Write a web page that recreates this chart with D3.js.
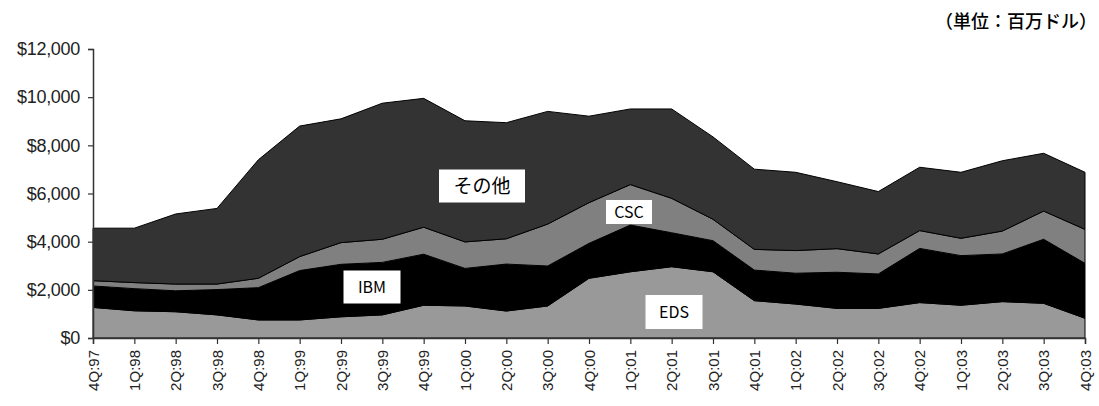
<!DOCTYPE html>
<html>
<head>
<meta charset="utf-8">
<script src="https://cdn.jsdelivr.net/npm/d3@7"></script>
<style>
	body { margin: 0; background: #fff; }
	svg { display: block; }
</style>
</head>
<body>
<div id="chart"></div>
<script>
	// quarters on the x axis
	var quarters = ["4Q:97","1Q:98","2Q:98","3Q:98","4Q:98","1Q:99","2Q:99","3Q:99","4Q:99",
		"1Q:00","2Q:00","3Q:00","4Q:00","1Q:01","2Q:01","3Q:01","4Q:01",
		"1Q:02","2Q:02","3Q:02","4Q:02","1Q:03","2Q:03","3Q:03","4Q:03"];
	// values in $ millions, stacked bottom to top
	var eds   = [1270,1130,1090,960,750,750,880,960,1360,1330,1120,1330,2480,2750,2960,2750,1550,1410,1230,1230,1470,1360,1510,1440,820];
	var ibm   = [890,920,870,1050,1340,2050,2180,2180,2120,1560,1950,1660,1450,1940,1410,1290,1270,1280,1500,1430,2250,2060,1980,2660,2280];
	var csc   = [220,250,280,230,390,580,900,960,1120,1100,1050,1740,1690,1680,1430,890,860,940,980,830,740,720,950,1170,1410];
	var other = [2180,2260,2910,3140,4920,5420,5140,5650,5350,5030,4820,4680,3590,3140,3710,3420,3330,3250,2780,2590,2630,2740,2920,2400,2370];
	var yTicks = [0, 2000, 4000, 6000, 8000, 10000, 12000];

	var keys = ["EDS", "IBM", "CSC", "その他"];
	var colors = {"EDS": "#999999", "IBM": "#000000", "CSC": "#808080", "その他": "#333333"};

	var rows = quarters.map(function(q, i) {
		return {q: q, "EDS": eds[i], "IBM": ibm[i], "CSC": csc[i], "その他": other[i]};
	});

	var width = 1099;
	var height = 406;
	var margin = {top: 49, right: 14, bottom: 68, left: 93};

	var svg = d3.select("#chart")
		.append("svg")
		.attr("width", width)
		.attr("height", height);

	var x = d3.scalePoint()
		.domain(quarters)
		.range([margin.left, width - margin.right]);
	var y = d3.scaleLinear()
		.domain([0, 12000])
		.range([height - margin.bottom, margin.top]);

	var series = d3.stack().keys(keys)(rows);

	var area = d3.area()
		.x(function(d) { return x(d.data.q); })
		.y0(function(d) { return y(d[0]); })
		.y1(function(d) { return y(d[1]); });

	svg.append("g")
		.selectAll("path")
		.data(series)
		.enter()
		.append("path")
		.attr("fill", function(d) { return colors[d.key]; })
		.attr("stroke", "#000")
		.attr("stroke-width", 1)
		.attr("d", area);

	// y axis
	var yAxis = svg.append("g")
		.attr("transform", "translate(" + margin.left + ",0)")
		.call(d3.axisLeft(y).tickValues(yTicks).tickSize(5).tickPadding(8)
			.tickFormat(function(d) { return "$" + d3.format(",")(d); }));
	yAxis.selectAll("text")
		.attr("font-family", "Liberation Sans, Arial, sans-serif")
		.attr("font-size", 18)
		.attr("letter-spacing", "-0.3")
		.attr("fill", "#222");

	// x axis
	var xAxis = svg.append("g")
		.attr("transform", "translate(0," + (height - margin.bottom) + ")")
		.call(d3.axisBottom(x).tickSize(6).tickPadding(4));
	xAxis.selectAll("text")
		.attr("font-family", "Liberation Sans, Arial, sans-serif")
		.attr("font-size", 15)
		.attr("fill", "#222")
		.attr("text-anchor", "end")
		.attr("dy", "0.35em")
		.attr("transform", "translate(0,12) rotate(-90)")
		.attr("x", 0)
		.attr("y", 0);

	svg.selectAll(".domain").attr("stroke", "#333").attr("stroke-width", 1.5);
	svg.selectAll(".tick line").attr("stroke", "#333").attr("stroke-width", 1.2);

	// boxed series labels
	var labels = [
		{text: "その他", x: 482, y: 186, w: 86, h: 33, size: 19},
		{text: "CSC", x: 629, y: 212, w: 46, h: 24, size: 16},
		{text: "IBM", x: 372, y: 287, w: 57, h: 33, size: 16},
		{text: "EDS", x: 674, y: 312, w: 57, h: 34, size: 16}
	];
	var lab = svg.append("g").selectAll("g")
		.data(labels)
		.enter()
		.append("g");
	lab.append("rect")
		.attr("x", function(d) { return d.x - d.w / 2; })
		.attr("y", function(d) { return d.y - d.h / 2; })
		.attr("width", function(d) { return d.w; })
		.attr("height", function(d) { return d.h; })
		.attr("fill", "#fff");
	lab.append("text")
		.attr("x", function(d) { return d.x; })
		.attr("y", function(d) { return d.y; })
		.attr("dy", "0.36em")
		.attr("text-anchor", "middle")
		.attr("font-family", "Noto Sans CJK JP, Open Sans, sans-serif")
		.attr("font-size", function(d) { return d.size; })
		.attr("fill", "#000")
		.text(function(d) { return d.text; });

	// unit note
	svg.append("text")
		.attr("x", 1097)
		.attr("y", 28)
		.attr("text-anchor", "end")
		.attr("font-family", "Noto Sans CJK JP, sans-serif")
		.attr("font-size", 18)
		.attr("font-weight", 500)
		.attr("fill", "#000")
		.text("（単位：百万ドル）");
</script>
</body>
</html>
